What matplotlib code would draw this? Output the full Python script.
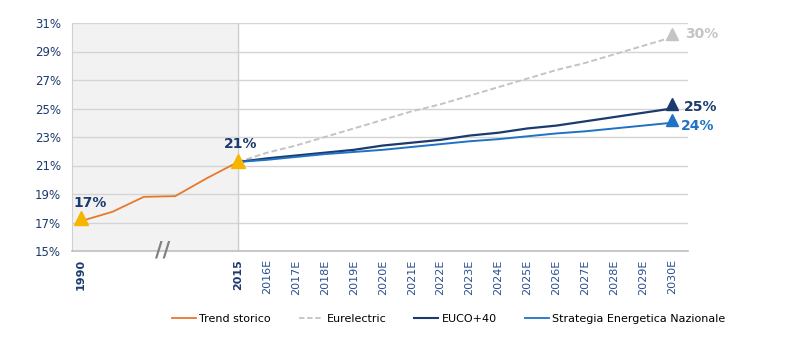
import matplotlib.pyplot as plt
import matplotlib.lines as lines

# historical trend (years before the break are squeezed into the grey zone)
hist_years = [1990, 1995, 2000, 2005, 2010, 2015]
hist_values = [17.1, 17.75, 18.8, 18.85, 20.1, 21.25]

# scenarios 2015 -> 2030E
proj_years = list(range(2015, 2031))
proj_labels = ["2015"] + ["%dE" % y for y in range(2016, 2031)]
eurelectric = [21.25, 21.9, 22.4, 23.0, 23.6, 24.2, 24.8, 25.3, 25.9, 26.5,
               27.1, 27.7, 28.2, 28.8, 29.4, 30.0]
euco40 = [21.25, 21.5, 21.7, 21.9, 22.1, 22.4, 22.6, 22.8, 23.1, 23.3,
          23.6, 23.8, 24.1, 24.4, 24.7, 25.0]
sen = [21.25, 21.4, 21.6, 21.8, 21.95, 22.1, 22.3, 22.5, 22.7, 22.85,
       23.05, 23.25, 23.4, 23.6, 23.8, 24.0]

y_ticks = [15, 17, 19, 21, 23, 25, 27, 29, 31]

NAVY = "#1b3a6e"
BLUE = "#1f72c4"
ORANGE = "#e8782a"
GREY = "#c4c4c4"
YELLOW = "#f7b500"


def hist_pos(year):
    # 1990-2015 compressed into about 5.4 slots before 2015
    return (year - 2015) * 5.43 / 25


fig = plt.figure(figsize=(7.94, 3.5), dpi=100)
ax = fig.add_axes([72 / 794, 1 - 251 / 350, (688 - 72) / 794, (251 - 23) / 350])

x_left, x_right = -5.74, 15.55
ax.set_xlim(x_left, x_right)
ax.set_ylim(15, 31)

ax.axvspan(x_left, 0, color="#f2f2f2", zorder=0)
for yv in y_ticks[1:]:
    ax.axhline(yv, color="#d4d4d4", lw=1, zorder=1)
ax.axvline(0, color="#cfcfcf", lw=1, zorder=1)

for s in ["top", "right"]:
    ax.spines[s].set_visible(False)
ax.spines["left"].set_color("#d0d0d0")
ax.spines["bottom"].set_color("#bfbfbf")
ax.spines["bottom"].set_linewidth(1.2)

hx = [hist_pos(y) for y in hist_years]
px = [y - 2015 for y in proj_years]

ax.plot(hx, hist_values, color=ORANGE, lw=1.3, zorder=3)
ax.plot(px, eurelectric, color=GREY, lw=1.4, ls=(0, (3, 1.5)), zorder=3)
ax.plot(px, euco40, color=NAVY, lw=1.6, zorder=4)
ax.plot(px, sen, color=BLUE, lw=1.4, zorder=4)

# end markers
ax.plot(hx[0], hist_values[0] + 0.2, marker="^", ms=10, color=YELLOW, zorder=5)
ax.plot(0, hist_values[-1] + 0.1, marker="^", ms=10, color=YELLOW, zorder=5)
ax.plot(px[-1], eurelectric[-1] + 0.25, marker="^", ms=9, color=GREY, zorder=5)
ax.plot(px[-1], euco40[-1] + 0.3, marker="^", ms=8, color=NAVY, zorder=5)
ax.plot(px[-1], sen[-1] + 0.2, marker="^", ms=9, color=BLUE, zorder=5)

lab = dict(fontsize=10, fontweight="bold", zorder=6)
ax.text(hx[0] - 0.25, hist_values[0] + 0.75, "17%", color=NAVY, ha="left", va="bottom", **lab)
ax.text(-0.5, hist_values[-1] + 0.75, "21%", color=NAVY, ha="left", va="bottom", **lab)
ax.text(px[-1] + 0.45, eurelectric[-1] + 0.25, "30%", color=GREY, ha="left", va="center", **lab)
ax.text(px[-1] + 0.4, euco40[-1] + 0.1, "25%", color=NAVY, ha="left", va="center", **lab)
ax.text(px[-1] + 0.3, sen[-1] - 0.2, "24%", color=BLUE, ha="left", va="center", **lab)

# axis break mark
ax.text(-2.6, 15.05, "//", color="#808080", fontsize=15, fontweight="bold",
        ha="center", va="center", zorder=6, clip_on=False)

ax.set_yticks(y_ticks)
ax.set_yticklabels(["%d%%" % v for v in y_ticks], color=NAVY, fontsize=8.5)
ax.tick_params(axis="y", length=0, pad=8)

ax.set_xticks([hx[0]] + px)
ax.set_xticklabels(["1990"] + proj_labels, rotation=90, fontsize=8)
ax.tick_params(axis="x", length=0, pad=6)
for i, t in enumerate(ax.get_xticklabels()):
    if i < 2:
        t.set_color(NAVY)
        t.set_fontweight("bold")
    else:
        t.set_color("#2a4f8f")

handles = [
    lines.Line2D([0], [0], color=ORANGE, lw=1.3, label="Trend storico"),
    lines.Line2D([0], [0], color=GREY, lw=1.3, ls=(0, (3, 1.5)), label="Eurelectric"),
    lines.Line2D([0], [0], color=NAVY, lw=1.5, label="EUCO+40"),
    lines.Line2D([0], [0], color=BLUE, lw=1.3, label="Strategia Energetica Nazionale"),
]
fig.legend(handles=handles, loc="center", bbox_to_anchor=(0.565, 0.09), ncol=4,
           frameon=False, fontsize=8, handlelength=2.2, handletextpad=0.3,
           columnspacing=2.5)

fig.savefig("out.png", dpi=100)
